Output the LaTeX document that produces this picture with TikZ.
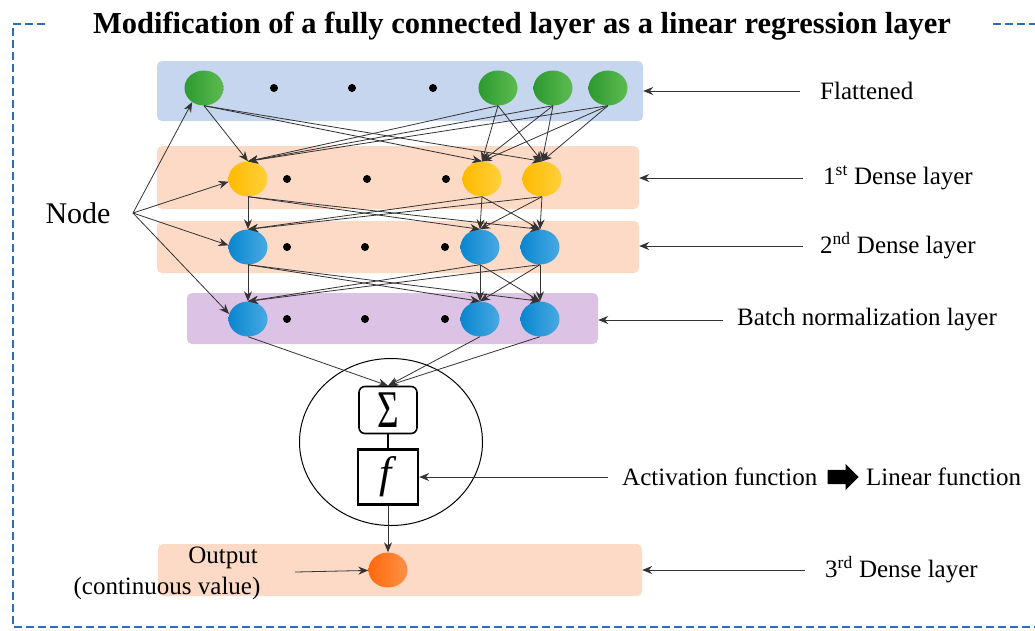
\documentclass[tikz,border=0pt]{standalone}
\usepackage{fontspec}
\setmainfont{Liberation Serif}
\usepackage{xcolor}
\usepackage{tikz}
\usetikzlibrary{arrows.meta,shapes.geometric,shapes.arrows,positioning}

\definecolor{flatblue}{HTML}{C6D6EE}
\definecolor{densepeach}{HTML}{FCDAC6}
\definecolor{bnpurple}{HTML}{DCC2E4}
\definecolor{frameblue}{HTML}{2F6DB5}
\definecolor{greenL}{HTML}{2C9A30}
\definecolor{greenR}{HTML}{5DBB50}
\definecolor{yellowL}{HTML}{FFBA00}
\definecolor{yellowR}{HTML}{FFD03C}
\definecolor{blueL}{HTML}{0A86CE}
\definecolor{blueR}{HTML}{48A9E2}
\definecolor{orangeL}{HTML}{FF6A0C}
\definecolor{orangeR}{HTML}{FF9048}

\begin{document}
\begin{tikzpicture}[x=1pt,y=-1pt]
    \tikzstyle{layerbox} = [rounded corners=5pt,inner sep=0]
    \tikzstyle{neuron} = [ellipse,minimum width=39pt,minimum height=35pt,inner sep=0]
    \tikzstyle{greenN} = [neuron,left color=greenL,right color=greenR]
    \tikzstyle{yellowN} = [neuron,left color=yellowL,right color=yellowR]
    \tikzstyle{blueN} = [neuron,left color=blueL,right color=blueR]
    \tikzstyle{dotmark} = [circle,fill=black,minimum size=8pt,inner sep=0]
    \tikzstyle{conn} = [draw=black!80,line width=0.8pt,-{Stealth[length=10,width=8]}]
    \tikzstyle{layername} = [font=\fontsize{25}{30}\selectfont,anchor=west,inner sep=0]
    \tikzstyle{frame} = [draw=frameblue,line width=2.5pt,dash pattern=on 8pt off 4pt]
    \useasboundingbox (0,0) rectangle (1035,630);

    % title and dashed frame
    \node at (522,26) (title) {\fontsize{30.5}{36}\selectfont\bfseries Modification of a fully connected layer as a linear regression layer};
    \draw[frame] (45,24) -- (13,24) -- (13,627) -- (1040,627);
    \draw[frame] (993,24) -- (1040,24);

    % layer strips
    \node[layerbox,fill=flatblue,minimum width=486pt,minimum height=60pt] (flatL) at (400,91) {};
    \node[layerbox,fill=densepeach,minimum width=482pt,minimum height=63pt] (d1L) at (398,177.5) {};
    \node[layerbox,fill=densepeach,minimum width=482pt,minimum height=52pt] (d2L) at (398,247) {};
    \node[layerbox,fill=bnpurple,minimum width=411pt,minimum height=51pt] (bnL) at (392.5,318.5) {};
    \node[layerbox,fill=densepeach,minimum width=484pt,minimum height=52pt] (d3L) at (400,570) {};

    % flattened
    \node[greenN] (g1) at (204,88) {};
    \node[greenN] (g2) at (498,88) {};
    \node[greenN] (g3) at (553,88) {};
    \node[greenN] (g4) at (608,88) {};
    \node[dotmark] (gd1) at (274,88) {};
    \node[dotmark] (gd2) at (352,88) {};
    \node[dotmark] (gd3) at (433,88) {};

    % 1st dense
    \node[yellowN] (y1) at (248,179) {};
    \node[yellowN] (y2) at (482,179) {};
    \node[yellowN] (y3) at (542,179) {};
    \node[dotmark] (yd1) at (287,179) {};
    \node[dotmark] (yd2) at (367,179) {};
    \node[dotmark] (yd3) at (446,179) {};

    % 2nd dense
    \node[blueN] (b1) at (248,247) {};
    \node[blueN] (b2) at (480,247) {};
    \node[blueN] (b3) at (540,247) {};
    \node[dotmark] (bd1) at (287,247) {};
    \node[dotmark] (bd2) at (365,247) {};
    \node[dotmark] (bd3) at (445,247) {};

    % batch normalization
    \node[blueN] (n1) at (248,319) {};
    \node[blueN] (n2) at (480,319) {};
    \node[blueN] (n3) at (540,319) {};
    \node[dotmark] (nd1) at (287,319) {};
    \node[dotmark] (nd2) at (365,319) {};
    \node[dotmark] (nd3) at (445,319) {};

    % unit
    \node[ellipse,draw,line width=1pt,minimum width=183pt,minimum height=167pt] (unit) at (391,442) {};
    \node[draw,line width=1.6pt,rounded corners=6pt,minimum width=58pt,minimum height=47pt,inner sep=0] (sum) at (388,410)
        {\fontsize{53}{53}\selectfont\scalebox{0.7}[1]{Σ}};
    \node[draw,line width=2.4pt,minimum width=60pt,minimum height=55pt,inner sep=0] (fbox) at (388,477)
        {\fontsize{44}{44}\selectfont\textit{f}};
    \node[neuron,left color=orangeL,right color=orangeR] (out) at (388,570) {};

    % connections
    \path (g1.south) edge[conn] (y1.north) edge[conn] (y2.north) edge[conn] (y3.north);
    \path (g2.south) edge[conn] (y1.north) edge[conn] (y2.north) edge[conn] (y3.north);
    \path (g3.south) edge[conn] (y1.north) edge[conn] (y2.north) edge[conn] (y3.north);
    \path (g4.south) edge[conn] (y1.north) edge[conn] (y2.north) edge[conn] (y3.north);
    \path (y1.south) edge[conn] (b1.north) edge[conn] (b2.north) edge[conn] (b3.north);
    \path (y2.south) edge[conn] (b1.north) edge[conn] (b2.north) edge[conn] (b3.north);
    \path (y3.south) edge[conn] (b1.north) edge[conn] (b2.north) edge[conn] (b3.north);
    \path (b1.south) edge[conn] (n1.north) edge[conn] (n2.north) edge[conn] (n3.north);
    \path (b2.south) edge[conn] (n1.north) edge[conn] (n2.north) edge[conn] (n3.north);
    \path (b3.south) edge[conn] (n1.north) edge[conn] (n2.north) edge[conn] (n3.north);
    \path (n1.south) edge[conn] (sum.north);
    \path (n2.south) edge[conn] (sum.north);
    \path (n3.south) edge[conn] (sum.north);
    \draw[line width=1.6pt] (sum) -- (fbox);
    \draw[conn] (fbox) -- (out);

    % node pointer
    \node at (78,213) (nodetxt) {\fontsize{30}{36}\selectfont Node};
    \coordinate (fan) at (133,213);
    \path (fan) edge[conn] (g1.230) edge[conn] (y1.188) edge[conn] (b1.175) edge[conn] (n1.165);

    % output
    \node at (223,558) (outtxt) {\fontsize{25}{30}\selectfont Output};
    \node at (167,588) (outval) {\fontsize{25}{30}\selectfont (continuous value)};
    \coordinate (outtail) at (295,572);
    \draw[conn] (outtail) -- (out);

    % layer names
    \node[layername] (lflat) at (820,91) {Flattened};
    \node[layername] (ld1) at (823,178) {1\textsuperscript{st} Dense layer};
    \node[layername] (ld2) at (820,246) {2\textsuperscript{nd} Dense layer};
    \node[layername] (lbn) at (737,320) {Batch normalization layer};
    \node[layername] (ld3) at (825,570) {3\textsuperscript{rd} Dense layer};
    \node[layername] (lact) at (622,477) {Activation function};
    \node[single arrow,fill=black,inner xsep=0pt,inner ysep=7pt,minimum height=31pt,
          single arrow head extend=6pt,single arrow head indent=0pt,right=10pt of lact] (actarrow) {};
    \node[layername,right=7pt of actarrow] (llin) {Linear function};

    \draw[conn,shorten <=20pt] (lflat.west) -- (lflat.west -| flatL.east);
    \draw[conn,shorten <=20pt] (ld1.west) -- (ld1.west -| d1L.east);
    \draw[conn,shorten <=17pt] (ld2.west) -- (ld2.west -| d2L.east);
    \draw[conn,shorten <=14pt] (lbn.west) -- (lbn.west -| bnL.east);
    \draw[conn,shorten <=20pt] (ld3.west) -- (ld3.west -| d3L.east);
    \draw[conn,shorten <=14pt] (lact.west) -- (lact.west -| fbox.east);
\end{tikzpicture}
\end{document}
